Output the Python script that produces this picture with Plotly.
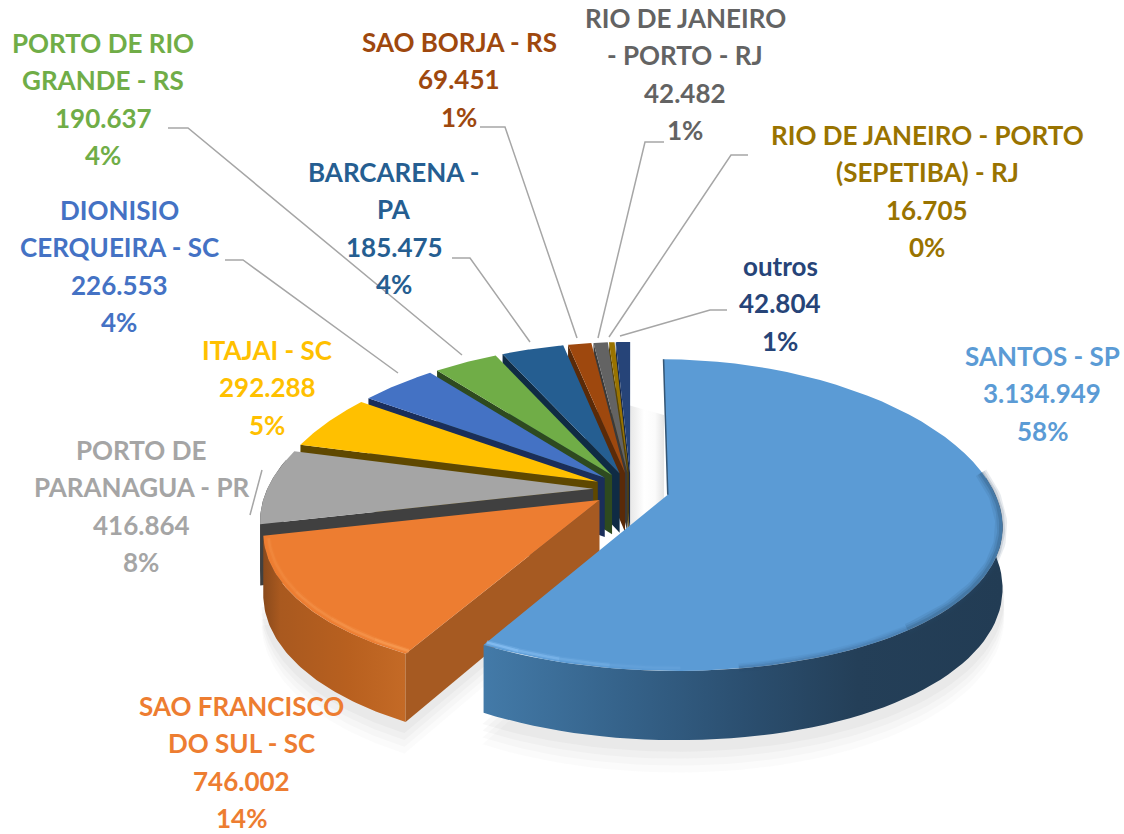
import math
import plotly.graph_objects as go

# ---- data ----
names = ["SANTOS - SP", "SAO FRANCISCO DO SUL - SC", "PORTO DE PARANAGUA - PR", "ITAJAI - SC",
         "DIONISIO CERQUEIRA - SC", "PORTO DE RIO GRANDE - RS", "BARCARENA - PA", "SAO BORJA - RS",
         "RIO DE JANEIRO - PORTO - RJ", "RIO DE JANEIRO - PORTO (SEPETIBA) - RJ", "outros"]
values = [3134949, 746002, 416864, 292288, 226553, 190637, 185475, 69451, 42482, 16705, 42804]
percents = [58, 14, 8, 5, 4, 4, 4, 1, 1, 0, 1]
colors = ["#5B9BD5", "#ED7D31", "#A5A5A5", "#FFC000", "#4472C4", "#70AD47",
          "#255E91", "#9E480E", "#636363", "#997300", "#264478"]
face_colors = ["#1F3D57", "#A65A22", "#404040", "#5F4800", "#1A2E5A", "#2E4A1F",
               "#0F2B44", "#5A2A08", "#3A3A3A", "#5A4400", "#14264A"]

# label text lines, split as in the picture (value and percent appended from the data)
label_lines = [["SANTOS - SP"], ["SAO FRANCISCO", "DO SUL - SC"], ["PORTO DE", "PARANAGUA - PR"], ["ITAJAI - SC"],
               ["DIONISIO", "CERQUEIRA - SC"], ["PORTO DE RIO", "GRANDE - RS"], ["BARCARENA -", "PA"],
               ["SAO BORJA - RS"], ["RIO DE JANEIRO", "- PORTO - RJ"], ["RIO DE JANEIRO - PORTO", "(SEPETIBA) - RJ"],
               ["outros"]]
# label anchor: centre x, y of the first line
label_pos = [(1042, 356), (241, 706), (141, 450), (267, 350), (119, 210), (103, 43),
             (394, 172), (459, 42), (685, 18), (927, 135), (780, 266)]
LINE_H = 37.3

leaders = [[(168, 128), (188, 128), (462, 355)],
           [(225, 260), (243, 260), (398, 373)],
           [(250, 515), (262, 470)],
           [(452, 258), (470, 258), (530, 342)],
           [(480, 127), (505, 127), (577, 338)],
           [(664, 142), (645, 142), (598, 338)],
           [(748, 155), (731, 155), (609, 337)],
           [(727, 310), (710, 310), (620, 336)]]

# ---- projection of the tilted pie ----
CX, CY, F, G, K, DEPTH, EXPLODE, BOWL = 631, 490, 330, 152, 0.13, 60, 0.115, 8
total = sum(values)


def proj(X, Y, z=0.0):
    den = 1 - K * Y
    return CX + F * X / den, CY + (G * Y + DEPTH * z + BOWL * X * X) / den


def rim(apex, a0, a1, z=0.0, r=1.0, n=60):
    pts = []
    for i in range(n + 1):
        t = a0 + (a1 - a0) * i / n
        pts.append(proj(apex[0] + r * math.sin(t), apex[1] - r * math.cos(t), z))
    return pts


fig = go.Figure()


def poly(pts, color=None, opacity=1.0, gradient=None):
    kw = dict(fillgradient=gradient) if gradient else dict(fillcolor=color)
    fig.add_trace(go.Scatter(x=[p[0] for p in pts] + [pts[0][0]], y=[p[1] for p in pts] + [pts[0][1]],
                             mode="lines", fill="toself", line=dict(width=0), opacity=opacity,
                             hoverinfo="skip", showlegend=False, **kw))


def line(pts, color, width, opacity=1.0):
    fig.add_trace(go.Scatter(x=[p[0] for p in pts], y=[p[1] for p in pts], mode="lines",
                             line=dict(color=color, width=width), opacity=opacity,
                             hoverinfo="skip", showlegend=False))


# slice angles
angles = []
acc = 0.0
for v in values:
    a0 = acc / total * 2 * math.pi
    acc += v
    a1 = acc / total * 2 * math.pi
    angles.append((a0, a1))
apexes = []
for a0, a1 in angles:
    m = (a0 + a1) / 2
    apexes.append((EXPLODE * math.sin(m), -EXPLODE * math.cos(m)))

gradients = {
    0: [[0, "#437AA8"], [0.25, "#36648C"], [0.5, "#2B4F70"], [0.72, "#243F58"], [1, "#223C54"]],
    1: [[0, "#8A4A1C"], [0.12, "#A9591F"], [0.6, "#B8601F"], [1, "#C46A26"]],
}

# soft shadows under the front slices and in the central gap
for i in (0, 1):
    a0, a1 = angles[i]
    wa0 = max(a0, math.radians(75))
    for dz, op in ((1.45, 0.035), (1.35, 0.04), (1.25, 0.05), (1.15, 0.06)):
        base = rim(apexes[i], wa0, a1, z=dz, r=1.005)
        poly([proj(apexes[i][0], apexes[i][1], dz)] + base, color="#808080", opacity=op)
poly([(628, 405), (664, 415), (664, 530), (628, 530)],
     gradient=dict(type="horizontal", colorscale=[[0, "#E4E4E4"], [0.45, "#FFFFFF"], [0.75, "#FBFBFB"], [1, "#E4E4E4"]]))

# draw back to front
for i in reversed(range(len(values))):
    a0, a1 = angles[i]
    ap = apexes[i]
    # outer wall
    wa0, wa1 = max(a0, math.radians(80)), min(a1, math.radians(285))
    if wa1 > wa0:
        top = rim(ap, wa0, wa1)
        bot = rim(ap, wa0, wa1, z=1)
        if i in gradients:
            poly(top + bot[::-1], gradient=dict(type="horizontal", colorscale=gradients[i]))
        else:
            poly(top + bot[::-1], color=face_colors[i])
    # cut face on the starting edge
    if a0 > math.pi or i == 1:
        rp = rim(ap, a0, a0, n=1)[0]
        rb = rim(ap, a0, a0, z=1, n=1)[0]
        poly([proj(*ap), rp, rb, proj(ap[0], ap[1], 1)], color=face_colors[i])
    # top face
    poly([proj(*ap)] + rim(ap, a0, a1), color=colors[i])
    # rim shading
    if i == 0:
        for wd, op in ((12, 0.10), (8, 0.14), (4, 0.22)):
            line(rim(ap, math.radians(78), math.radians(140), r=0.996), "#2A4A68", wd, op)
            line(rim(ap, math.radians(140), math.radians(170), r=0.996), "#2A4A68", wd * 0.7, op * 0.6)
        line([proj(*ap), rim(ap, a0, a0, n=1)[0]], "#2A4A68", 1.5, 0.9)
        steps = [(a1, a1 - 0.10, 0.8), (a1 - 0.10, a1 - 0.22, 0.55), (a1 - 0.22, a1 - 0.36, 0.3), (a1 - 0.36, a1 - 0.55, 0.12)]
        for s, e, op in steps:
            line(rim(ap, s, e, r=0.985, n=10), "#86BEF2", 5, op * 0.4)
            line(rim(ap, s, e, r=0.985, n=10), "#86BEF2", 2.5, op)
    if i == 1:
        steps = [(a0, a0 + 0.12, 0.8), (a0 + 0.12, a0 + 0.30, 0.55), (a0 + 0.30, a0 + 0.5, 0.4), (a0 + 0.5, a1 - 0.02, 0.25)]
        for s, e, op in steps:
            line(rim(ap, s, e, r=0.985, n=14), "#F79A52", 5, op * 0.4)
            line(rim(ap, s, e, r=0.985, n=14), "#F79A52", 2.5, op)

# leader lines
for pts in leaders:
    line(pts, "#A6A6A6", 1.5)

# labels
FONT = "Lato"
annotations = []
for i, lines in enumerate(label_lines):
    vtxt = f"{values[i]:,}".replace(",", ".")
    pct = f"{percents[i]}%"
    px, py = label_pos[i]
    for j, t in enumerate(lines + [vtxt, pct]):
        annotations.append(dict(x=px, y=py + j * LINE_H, text=f"<b>{t}</b>", showarrow=False, xref="x", yref="y",
                                xanchor="center", yanchor="middle",
                                font=dict(family=FONT, size=26, color=colors[i])))

fig.update_layout(width=1124, height=834, margin=dict(l=0, r=0, t=0, b=0), paper_bgcolor="white",
                  plot_bgcolor="white", showlegend=False, annotations=annotations,
                  xaxis=dict(range=[0, 1124], visible=False, fixedrange=True),
                  yaxis=dict(range=[834, 0], visible=False, fixedrange=True))
fig.write_html("out.html", config={"displayModeBar": False},
               post_script="document.body.style.margin='0';document.body.style.overflow='hidden';")
